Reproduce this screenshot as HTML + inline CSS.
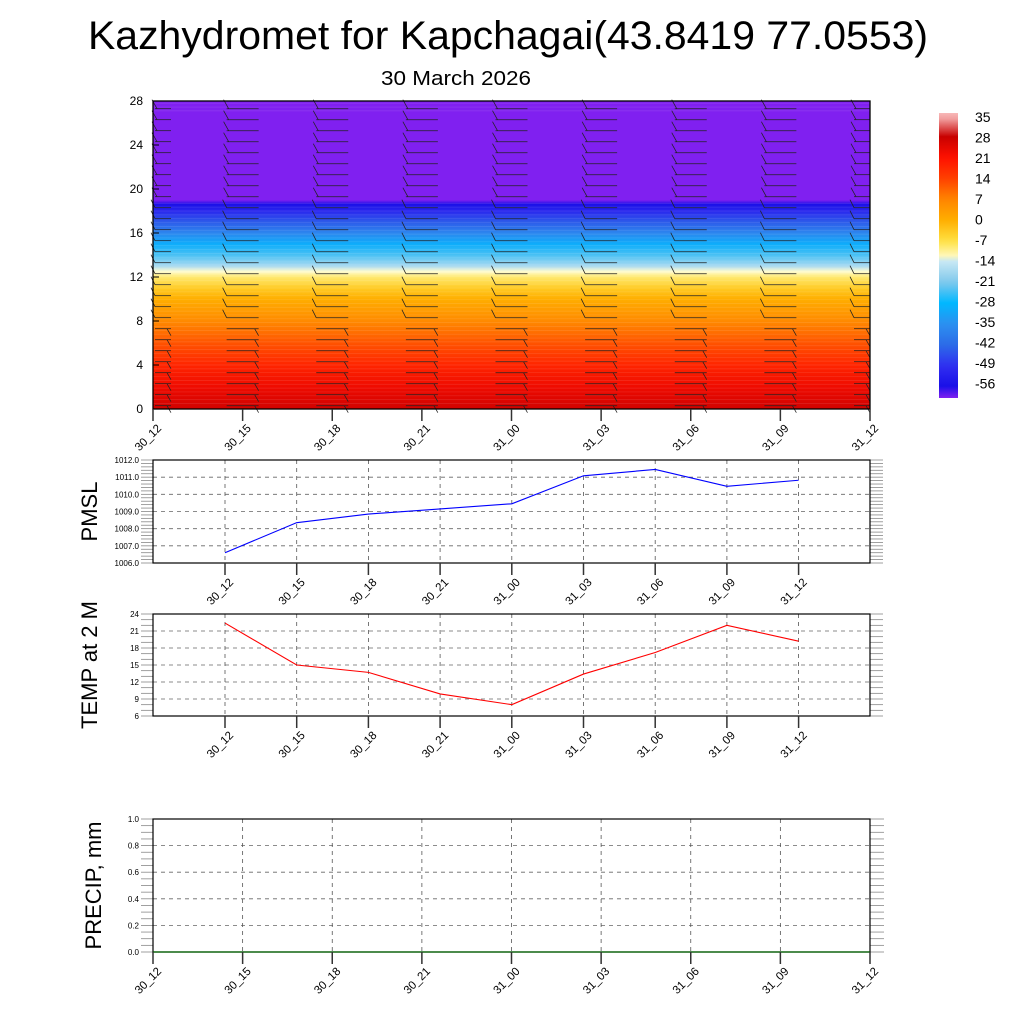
<!DOCTYPE html>
<html><head><meta charset="utf-8"><style>
body{margin:0;background:#fff}
svg{display:block;font-family:"Liberation Sans",Arial,sans-serif}
</style></head><body>
<svg id="chart" width="1024" height="1024" viewBox="0 0 1024 1024">
<defs>
<linearGradient id="tgrad" x1="0" y1="1" x2="0" y2="0"></linearGradient>
<linearGradient id="cbgrad" x1="0" y1="1" x2="0" y2="0"></linearGradient>
</defs>
<text x="508" y="49" font-size="40" text-anchor="middle" textLength="840" lengthAdjust="spacingAndGlyphs">Kazhydromet for Kapchagai(43.8419 77.0553)</text>
<text x="456" y="85" font-size="20" text-anchor="middle" textLength="150" lengthAdjust="spacingAndGlyphs">30 March 2026</text>
<g id="g"></g>
</svg>
<script>
// ---- data ----
const contourTimes = ["30_12","30_15","30_18","30_21","31_00","31_03","31_06","31_09","31_12"];
const heightLevels = [0,2,4,6,8,10,11,12,12.5,13,14,15,16,17,18,18.6,19,28];
const tempProfile = [27,23,18,12,6,0,-4,-9,-13,-17,-24,-30,-37,-44,-51,-56,-60,-60];
const heightTicks = [0,4,8,12,16,20,24,28];
const colorbarLabels = [35,28,21,14,7,0,-7,-14,-21,-28,-35,-42,-49,-56];
const seriesTimes = ["30_12","30_15","30_18","30_21","31_00","31_03","31_06","31_09","31_12"];
const pmslValues = [1006.6,1008.35,1008.85,1009.15,1009.45,1011.08,1011.45,1010.47,1010.82];
const pmslTicks = [1006,1007,1008,1009,1010,1011,1012];
const tempValues = [22.4,15.0,13.7,9.9,8.0,13.4,17.2,22.0,19.2];
const tempTicks = [6,9,12,15,18,21,24];
const precipValues = [0,0,0,0,0,0,0,0,0];
const precipTicks = [0,0.2,0.4,0.6,0.8,1.0];

const NS="http://www.w3.org/2000/svg";
const G=document.getElementById('g');
function mk(tag,attrs,parent){const e=document.createElementNS(NS,tag);for(const k in attrs)e.setAttribute(k,attrs[k]);(parent||G).appendChild(e);return e;}

const cmT=[35,28,21,14,7,0,-7,-13,-14,-21,-28,-35,-42,-49,-56,-60];
const cmC=["#f8b8b8","#c80000","#ff1000","#ff4000","#ff8400","#ffae00","#ffe040","#fffcd0","#c8e8f4","#80c8ec","#00b8ff","#2c90f0","#2c6ce8","#3030f0","#1a10e8","#8020f0"];
function hex(c){return [1,3,5].map(i=>parseInt(c.substr(i,2),16));}
function tcol(t){
  if(t>=cmT[0])return cmC[0];
  for(let i=0;i<cmT.length-1;i++){if(t<=cmT[i]&&t>=cmT[i+1]){const f=(cmT[i]-t)/(cmT[i]-cmT[i+1]);const a=hex(cmC[i]),b=hex(cmC[i+1]);return "rgb("+a.map((v,j)=>Math.round(v+(b[j]-v)*f)).join(",")+")";}}
  return cmC[cmC.length-1];
}

// ---- main contour panel ----
const MX0=153,MX1=870,MY0=101,MY1=409;
const hx=i=>MX0+(MX1-MX0)*i/(contourTimes.length-1);
const hy=h=>MY1-(MY1-MY0)*h/28;
const tg=document.getElementById('tgrad');
heightLevels.forEach((h,i)=>{mk('stop',{offset:(h/28).toFixed(4),'stop-color':tcol(tempProfile[i])},tg);});
const field=mk('rect',{x:MX0,y:MY0,width:MX1-MX0,height:MY1-MY0,fill:'url(#tgrad)'});


for(let h=0.5;h<28;h+=0.35){if(h>19&&h<27)continue;const l=mk('line',{x1:MX0,x2:MX1,y1:hy(h),y2:hy(h),stroke:'#fff','stroke-opacity':0.12,'stroke-width':0.7});

}
// wind barbs
contourTimes.forEach((t,i)=>{
  const cx=hx(i)+(i===0?2:0);
  for(let h=0.3;h<=27.8;h+=1.0){
    const y=hy(h);
    const gb=mk('g',{stroke:'#222','stroke-width':0.75,fill:'none'});
    
    
    const left=cx-(i===0?0:16), right=cx+(i===8?0:16);
    mk('line',{x1:left,x2:right,y1:y,y2:y},gb);
    if(h>8&&h<19) mk('line',{x1:left,y1:y,x2:left-4,y2:y-8},gb);
    else if(h>=19) mk('line',{x1:left+2,y1:y,x2:left-3,y2:y-9},gb);
    else mk('line',{x1:right-4,y1:y,x2:right,y2:y+7},gb);
  }
});
mk('rect',{x:MX0,y:MY0,width:MX1-MX0,height:MY1-MY0,fill:'none',stroke:'#000','stroke-width':1.3});
heightTicks.forEach(v=>{
  mk('line',{x1:MX0,x2:MX0+6,y1:hy(v),y2:hy(v),stroke:'#000'});
  const tx=mk('text',{x:MX0-10,y:hy(v)+4,'font-size':12,'text-anchor':'end'});tx.textContent=v;
  
  
});
function xLabels(list,xf,yTop){
  list.forEach((t,i)=>{const x=xf(i);
    mk('line',{x1:x,x2:x,y1:yTop,y2:yTop+12,stroke:'#333','stroke-width':1.5});
    const tx=mk('text',{x:x+9,y:yTop+20,'font-size':11.5,'text-anchor':'end',transform:`rotate(-45 ${x+9} ${yTop+20})`});tx.textContent=t;
    
    
  });
}
xLabels(contourTimes,hx,MY1);

// colorbar
const cb=document.getElementById('cbgrad');
for(let t=-60;t<=36;t+=2){mk('stop',{offset:((t+60)/96).toFixed(4),'stop-color':tcol(t)},cb);}
const cbr=mk('rect',{x:939,y:113,width:19,height:285,fill:'url(#cbgrad)'});


colorbarLabels.forEach((v,i)=>{const tx=mk('text',{x:975,y:122+i*20.5,'font-size':14});tx.textContent=v;
  
  });

// ---- line panels ----
function panel(y0,y1,ticks,vals,color,title,fmt,name,minorN){
  const X0=153,X1=870;
  const sx=i=>225+71.7*i;
  const lo=ticks[0],hi=ticks[ticks.length-1];
  const sy=v=>y1-(y1-y0)*(v-lo)/(hi-lo);
  ticks.forEach(v=>{
    if(v!==lo&&v!==hi)mk('line',{x1:X0,x2:X1,y1:sy(v),y2:sy(v),stroke:'#666','stroke-dasharray':'4 4','stroke-width':0.8});
    const tx=mk('text',{x:X0-14,y:sy(v)+3,'font-size':8,'text-anchor':'end'});tx.textContent=fmt(v);
    
    
  });
  const step=(hi-lo)/((ticks.length-1)*minorN);
  for(let v=lo;v<=hi+1e-9;v+=step){const y=sy(v);
    mk('line',{x1:X0-12,x2:X0,y1:y,y2:y,stroke:'#888','stroke-width':0.8});
    mk('line',{x1:X1,x2:X1+13,y1:y,y2:y,stroke:'#888','stroke-width':0.8});}
  vals.forEach((v,i)=>mk('line',{x1:sx(i),x2:sx(i),y1:y0,y2:y1,stroke:'#555','stroke-dasharray':'4 4','stroke-width':0.8}));
  mk('rect',{x:X0,y:y0,width:X1-X0,height:y1-y0,fill:'none',stroke:'#000','stroke-width':1.2});
  const pl=mk('polyline',{points:vals.map((v,i)=>sx(i)+','+sy(v)).join(' '),fill:'none',stroke:color,'stroke-width':1.1});
  
  
  xLabels(seriesTimes,sx,y1);
  const tt=mk('text',{x:0,y:0,'font-size':22,'text-anchor':'middle',transform:`translate(${97} ${(y0+y1)/2}) rotate(-90)`});tt.textContent=title;
  
  
}
panel(460,563,pmslTicks,pmslValues,'#0000ff','PMSL',v=>v.toFixed(1),'pmsl',5);
panel(614,716,tempTicks,tempValues,'#ff0000','TEMP at 2 M',v=>v,'temp',3);

// precip panel
(function(){
  const X0=153,X1=870,y0=819,y1=952;
  const sx=i=>X0+(X1-X0)*i/(contourTimes.length-1);
  const sy=v=>y1-(y1-y0)*v;
  precipTicks.forEach(v=>{
    if(v>0&&v<1)mk('line',{x1:X0,x2:X1,y1:sy(v),y2:sy(v),stroke:'#666','stroke-dasharray':'4 4','stroke-width':0.8});
    const tx=mk('text',{x:X0-14,y:sy(v)+3,'font-size':8,'text-anchor':'end'});tx.textContent=v.toFixed(1);
    
    
  });
  for(let v=0;v<=1.0001;v+=0.05){const y=sy(v);
    mk('line',{x1:X0-12,x2:X0,y1:y,y2:y,stroke:'#888','stroke-width':0.8});
    mk('line',{x1:X1,x2:X1+14,y1:y,y2:y,stroke:'#888','stroke-width':0.8});}
  for(let i=1;i<8;i++)mk('line',{x1:sx(i),x2:sx(i),y1:y0,y2:y1,stroke:'#555','stroke-dasharray':'4 4','stroke-width':0.8});
  mk('rect',{x:X0,y:y0,width:X1-X0,height:y1-y0,fill:'none',stroke:'#000','stroke-width':1.2});
  const pl=mk('polyline',{points:precipValues.map((v,i)=>(X0+(X1-X0)*i/(precipValues.length-1))+','+sy(v)).join(' '),fill:'none',stroke:'#006400','stroke-width':1.2});
  
  
  xLabels(contourTimes,sx,y1);
  const tt=mk('text',{x:0,y:0,'font-size':22,'text-anchor':'middle',transform:`translate(${101} ${(y0+y1)/2}) rotate(-90)`});tt.textContent='PRECIP, mm';
  
  
})();
</script>
</body></html>
